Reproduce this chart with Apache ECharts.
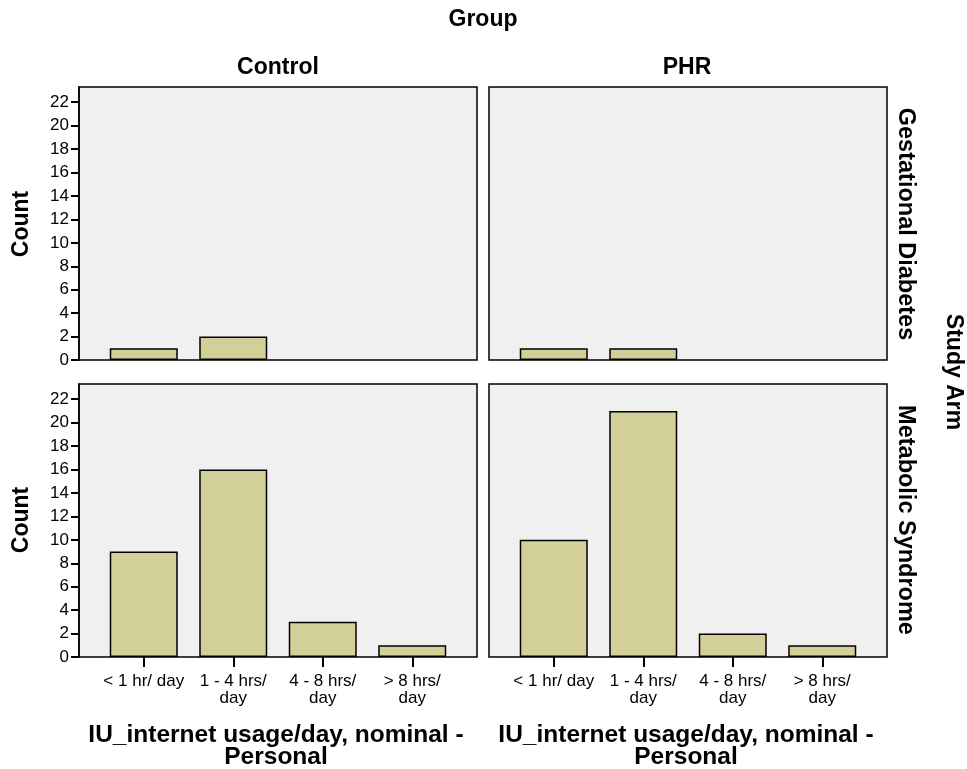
<!DOCTYPE html>
<html><head><meta charset="utf-8">
<script src="https://cdn.jsdelivr.net/npm/echarts@6/dist/echarts.min.js"></script>
<style>html,body{margin:0;padding:0;background:#fff}#c{width:967px;height:769px}</style>
</head><body><div id="c"></div>
<script>
const categories = ['< 1 hr/ day', '1 - 4 hrs/\nday', '4 - 8 hrs/\nday', '> 8 hrs/\nday'];
const controlGestational = [1, 2, 0, 0];
const phrGestational = [1, 1, 0, 0];
const controlMetabolic = [9, 16, 3, 1];
const phrMetabolic = [10, 21, 2, 1];
const yTicks = [0, 2, 4, 6, 8, 10, 12, 14, 16, 18, 20, 22];
const colTitles = ['Control', 'PHR'];
const rowTitles = ['Gestational Diabetes', 'Metabolic Syndrome'];

const FONT = '"Liberation Sans", Arial, sans-serif';
const YMAX = 23.3;
const panels = [
  {left: 79, top: 87, data: controlGestational, yLabels: true, xLabels: false},
  {left: 489, top: 87, data: phrGestational, yLabels: false, xLabels: false},
  {left: 79, top: 384, data: controlMetabolic, yLabels: true, xLabels: true},
  {left: 489, top: 384, data: phrMetabolic, yLabels: false, xLabels: true}
];
const W = 398, H = 273, PAD = 20;

const grid = [], xAxis = [], yAxis = [], series = [];
panels.forEach((p, i) => {
  const gi = grid.length;
  grid.push({left: p.left, top: p.top, width: W, height: H, show: true,
    backgroundColor: '#f0f0f0', borderColor: '#000', borderWidth: 1.5, z: 0});
  xAxis.push({gridIndex: gi, type: 'value', show: false, min: 0, max: 1});
  yAxis.push({gridIndex: gi, type: 'value', min: 0, max: YMAX,
    splitLine: {show: false},
    axisLine: {show: p.yLabels, lineStyle: {color: '#000', width: 1.5}},
    axisTick: {show: p.yLabels, length: 8, customValues: yTicks, lineStyle: {color: '#000', width: 2}},
    axisLabel: {show: p.yLabels, customValues: yTicks, color: '#000', fontSize: 17, fontFamily: FONT, margin: 10}
  });
  const bi = grid.length;
  grid.push({left: p.left + PAD, top: p.top, width: W - 2 * PAD, height: H});
  xAxis.push({gridIndex: bi, type: 'category', data: categories, boundaryGap: true,
    axisLine: {show: false},
    axisTick: {show: p.xLabels, alignWithLabel: true, length: 10, lineStyle: {color: '#000', width: 2}},
    axisLabel: {show: p.xLabels, color: '#000', fontSize: 17, fontFamily: FONT, margin: 16, lineHeight: 17, interval: 0}
  });
  yAxis.push({gridIndex: bi, type: 'value', min: 0, max: YMAX, show: false, splitLine: {show: false}});
  series.push({type: 'bar', xAxisIndex: bi, yAxisIndex: bi,
    data: p.data.map(v => (v === 0 ? null : v)), barWidth: 68,
    itemStyle: {color: '#d3cf98', borderColor: '#000', borderWidth: 1.5}, z: 3});
});

const bold = (t, x, y, size, rot, lh) => ({type: 'text', x: x, y: y, rotation: rot || 0,
  style: {text: t, font: 'bold ' + size + 'px ' + FONT, fill: '#000', textAlign: 'center',
    textVerticalAlign: 'middle', lineHeight: lh || size}});

const graphic = [
  bold('Group', 483, 20, 23),
  bold(colTitles[0], 278, 68, 23),
  bold(colTitles[1], 687, 68, 23),
  bold(rowTitles[0], 905, 224, 23.5, -Math.PI / 2),
  bold(rowTitles[1], 905, 520, 23.5, -Math.PI / 2),
  bold('Study Arm', 953, 372, 23, -Math.PI / 2),
  bold('Count', 22, 224, 23, Math.PI / 2),
  bold('Count', 22, 520, 23, Math.PI / 2),
  bold('IU_internet usage/day, nominal -\nPersonal', 276, 746, 24.5, 0, 22),
  bold('IU_internet usage/day, nominal -\nPersonal', 686, 746, 24.5, 0, 22)
];

const chart = echarts.init(document.getElementById('c'), null, {renderer: 'canvas'});
chart.setOption({animation: false, backgroundColor: '#fff', grid, xAxis, yAxis, series, graphic});
</script></body></html>
